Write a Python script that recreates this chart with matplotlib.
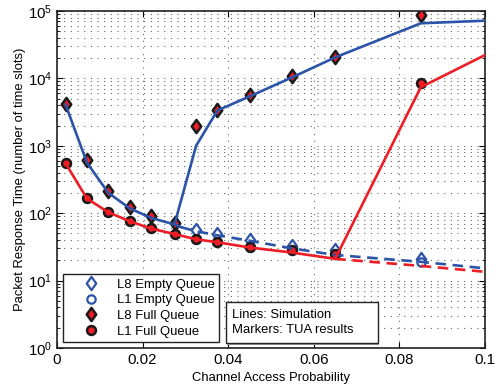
import matplotlib
matplotlib.use("Agg")
import matplotlib.pyplot as plt
from matplotlib.path import Path
from matplotlib.lines import Line2D
from matplotlib.patches import Rectangle
from matplotlib.ticker import LogLocator, NullFormatter, FixedLocator, FixedFormatter

plt.rcParams['font.family'] = ['Liberation Sans', 'DejaVu Sans']
plt.rcParams['mathtext.fontset'] = 'custom'
plt.rcParams['mathtext.rm'] = 'Liberation Sans'

BLUE = '#2B53A8'
RED = '#EE1C25'

# ---- TUA results (markers) ----
x_full = [0.002, 0.007, 0.012, 0.017, 0.022, 0.0275, 0.0325, 0.0375, 0.045, 0.055, 0.065, 0.085]
l8_full = [4130, 617, 214, 125, 92, 72, 1950, 3400, 5700, 10900, 20800, 87000]
l1_full = [556, 170, 105, 77, 60, 49, 41, 38, 32, 28, 25, 8400]

x_empty = [0.0325, 0.0375, 0.045, 0.055, 0.065, 0.085]
l8_empty = [56, 49, 40, 33, 28, 21]
l1_empty = [41, 38, 32, 28, 25, 19]

# ---- Simulation (lines) ----
x_l8_low = [0.002, 0.007, 0.012, 0.017, 0.022, 0.0275, 0.029]
l8_low = [4100, 560, 200, 118, 85, 68, 62]
x_l8_high = [0.0275, 0.0325, 0.0375, 0.045, 0.055, 0.065, 0.085, 0.1]
l8_high = [70, 1000, 3350, 5400, 10400, 20500, 65700, 71800]
x_l8_dash = [0.029, 0.0325, 0.0375, 0.045, 0.055, 0.065, 0.085, 0.1]
l8_dash = [62, 54, 47, 39, 30, 24, 19, 15.2]

x_l1_solid = [0.002, 0.007, 0.012, 0.017, 0.022, 0.0275, 0.0325, 0.0375, 0.045, 0.055, 0.065, 0.085, 0.1]
l1_solid = [550, 165, 103, 76, 59, 49, 41, 37, 31, 26, 21, 7400, 22200]
x_l1_dash = [0.065, 0.085, 0.1]
l1_dash = [21, 16.5, 13.5]

x_ticks = [0, 0.02, 0.04, 0.06, 0.08, 0.1]
x_tick_labels = ['0', '0.02', '0.04', '0.06', '0.08', '0.1']

# narrow MATLAB-style diamond
diamond = Path([(0, 1), (0.72, 0), (0, -1), (-0.72, 0), (0, 1)],
               [Path.MOVETO, Path.LINETO, Path.LINETO, Path.LINETO, Path.CLOSEPOLY])

fig = plt.figure(figsize=(5.03, 3.87), dpi=100)
ax = fig.add_axes([0.1133, 0.1008, 0.8509, 0.8708])

fs = 9.4

# markers
ax.plot(x_empty, l8_empty, linestyle='none', marker=diamond, ms=9.5, mfc='white',
        mec=BLUE, mew=1.6, zorder=3)
ax.plot(x_empty, l1_empty, linestyle='none', marker='o', ms=6, mfc='white',
        mec=BLUE, mew=1.6, zorder=3)
ax.plot(x_full, l8_full, linestyle='none', marker=diamond, ms=9.5, mfc=RED,
        mec='#1a1a1a', mew=1.8, zorder=4)
ax.plot(x_full, l1_full, linestyle='none', marker='o', ms=6.4, mfc=RED,
        mec='#1a1a1a', mew=1.8, zorder=4)

# simulation lines
lw = 1.9
ax.plot(x_l8_low, l8_low, color=BLUE, lw=lw, zorder=5)
ax.plot(x_l8_high, l8_high, color=BLUE, lw=lw, zorder=5)
ax.plot(x_l8_dash, l8_dash, color=BLUE, lw=lw, ls=(0, (4, 2.5)), zorder=5)
ax.plot(x_l1_solid, l1_solid, color=RED, lw=lw, zorder=5)
ax.plot(x_l1_dash, l1_dash, color=RED, lw=lw, ls=(0, (4, 2.5)), zorder=5)

ax.set_yscale('log')
ax.set_xlim(0, 0.1)
ax.set_ylim(1, 1e5)
ax.xaxis.set_major_locator(FixedLocator(x_ticks))
ax.xaxis.set_major_formatter(FixedFormatter(x_tick_labels))
ax.yaxis.set_major_locator(LogLocator(base=10, numticks=10))
ax.yaxis.set_minor_locator(LogLocator(base=10, subs=range(2, 10), numticks=20))
ax.yaxis.set_minor_formatter(NullFormatter())

grid_ls = (0, (1, 5))
ax.grid(True, which='major', axis='both', ls=grid_ls, color='#666666', lw=0.8)
ax.grid(True, which='minor', axis='y', ls=grid_ls, color='#666666', lw=0.8)

ax.tick_params(which='both', direction='in', top=True, right=True, labelsize=fs + 1.4)
ax.tick_params(which='major', length=4, width=0.8)
ax.tick_params(which='minor', length=2.2, width=0.6)
for s in ax.spines.values():
    s.set_linewidth(1.2)
    s.set_color('#222222')

ax.set_xlabel('Channel Access Probability', fontsize=fs, labelpad=4)
ax.set_ylabel('Packet Response Time (number of time slots)', fontsize=fs, labelpad=1.5)

handles = [
    Line2D([], [], ls='none', marker=diamond, ms=9.5, mfc='white', mec=BLUE, mew=1.6),
    Line2D([], [], ls='none', marker='o', ms=6, mfc='white', mec=BLUE, mew=1.6),
    Line2D([], [], ls='none', marker=diamond, ms=9.5, mfc=RED, mec='#1a1a1a', mew=1.8),
    Line2D([], [], ls='none', marker='o', ms=6.4, mfc=RED, mec='#1a1a1a', mew=1.8),
]
labels = ['L8 Empty Queue', 'L1 Empty Queue', 'L8 Full Queue', 'L1 Full Queue']
leg = ax.legend(handles, labels, loc='lower left', bbox_to_anchor=(0.014, 0.018),
                borderaxespad=0, fontsize=fs, fancybox=False, framealpha=1,
                edgecolor='#222222', labelspacing=0.27, handletextpad=0.15,
                handlelength=3.65, borderpad=0.33)
leg.get_frame().set_linewidth(1.0)
leg.set_zorder(10)

# annotation box with a faint drop shadow
ax.add_patch(Rectangle((0.398, 0.009), 0.355, 0.122, transform=ax.transAxes,
                       fc='#9a9a9a', ec='none', zorder=9, clip_on=False))
ax.add_patch(Rectangle((0.395, 0.0148), 0.355, 0.1217, transform=ax.transAxes,
                       fc='white', ec='#222222', lw=1.0, zorder=9.5))
ax.text(0.41, 0.076, 'Lines: Simulation\nMarkers: TUA results', transform=ax.transAxes,
        fontsize=fs, va='center', ha='left', linespacing=1.3, zorder=10)

fig.savefig('out.png', dpi=100)
